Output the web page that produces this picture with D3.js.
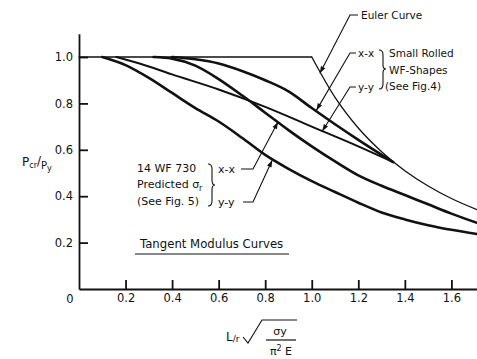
<!DOCTYPE html>
<html>
<head>
<meta charset="utf-8">
<script src="https://cdn.jsdelivr.net/npm/d3@7"></script>
<style>
  body { margin: 0; background: #fff; }
  svg text { font-family: "DejaVu Sans", sans-serif; fill: #111; }
  .axis path, .axis line { stroke: #111; stroke-width: 1.8; }
  .axis text { font-size: 11.5px; }
  .curve { fill: none; stroke: #111; stroke-linejoin: round; stroke-linecap: round; }
  .leader { fill: none; stroke: #111; stroke-width: 1.1; }
  .note { font-size: 10.5px; }
</style>
</head>
<body>
<svg id="chart"></svg>
<script>
// Values: [L/r * sqrt(sy / pi^2 E), Pcr/Py]
const eulerPlateau = [[0, 1.0], [1.0, 1.0]];
const eulerCurve = [[1.0, 1.0], [1.1, 0.826], [1.2, 0.694], [1.3, 0.592], [1.4, 0.51],
                    [1.5, 0.444], [1.6, 0.39], [1.71, 0.342]];
const smallXX = [[0.40, 1.0], [0.5, 0.99], [0.6, 0.972], [0.7, 0.94], [0.8, 0.9],
                 [0.9, 0.852], [1.0, 0.78], [1.1, 0.71], [1.2, 0.643], [1.35, 0.547]];
const smallYY = [[0.16, 1.0], [0.26, 0.972], [0.4, 0.925], [0.6, 0.86], [0.8, 0.785],
                 [1.0, 0.70], [1.2, 0.615], [1.35, 0.547]];
const wf730XX = [[0.32, 1.0], [0.4, 0.993], [0.5, 0.963], [0.6, 0.905], [0.7, 0.835],
                 [0.8, 0.76], [0.9, 0.685], [1.0, 0.615], [1.1, 0.55], [1.2, 0.49],
                 [1.3, 0.445], [1.4, 0.405], [1.5, 0.365], [1.6, 0.325], [1.71, 0.285]];
const wf730YY = [[0.10, 1.0], [0.2, 0.965], [0.3, 0.91], [0.4, 0.845], [0.5, 0.78],
                 [0.6, 0.722], [0.7, 0.652], [0.8, 0.578], [0.9, 0.518], [1.0, 0.465],
                 [1.1, 0.418], [1.2, 0.372], [1.3, 0.33], [1.4, 0.3], [1.5, 0.275],
                 [1.6, 0.255], [1.71, 0.237]];

const xTicks = [0.2, 0.4, 0.6, 0.8, 1.0, 1.2, 1.4, 1.6];
const yTicks = [0.2, 0.4, 0.6, 0.8, 1.0];

const W = 477, H = 359;
const svg = d3.select("#chart").attr("width", W).attr("height", H);

// Set the ranges
let x = d3.scaleLinear().domain([0, 1.71]).range([79, 477]);
let y = d3.scaleLinear().domain([0, 1.1]).range([289, 33.8]);

let smooth = d3.line().x(d => x(d[0])).y(d => y(d[1])).curve(d3.curveMonotoneX);
let straight = d3.line().x(d => x(d[0])).y(d => y(d[1]));

// arrow head for leaders
svg.append("defs").append("marker")
    .attr("id", "arrow")
    .attr("viewBox", "0 0 10 10")
    .attr("refX", 10).attr("refY", 5)
    .attr("markerWidth", 9).attr("markerHeight", 7)
    .attr("markerUnits", "userSpaceOnUse")
    .attr("orient", "auto")
    .append("path").attr("d", "M0,1.5 L10,5 L0,8.5 Z").attr("fill", "#111");

// Axes, ticks pointing inward
svg.append("g")
    .attr("class", "y axis")
    .attr("transform", "translate(" + x(0) + ",0)")
    .call(d3.axisLeft(y).tickValues(yTicks).tickSize(-9).tickSizeOuter(0)
        .tickPadding(6).tickFormat(d3.format(".1f")));

svg.append("g")
    .attr("class", "x axis")
    .attr("transform", "translate(0," + y(0) + ")")
    .call(d3.axisBottom(x).tickValues(xTicks).tickSize(-9).tickSizeOuter(0)
        .tickPadding(5).tickFormat(d3.format(".1f")));

svg.append("text").attr("x", x(0) - 9).attr("y", y(0) + 14)
    .attr("text-anchor", "middle").style("font-size", "11.5px").text("0");

// Curves
svg.append("path").datum(eulerPlateau).attr("class", "curve")
    .attr("stroke-width", 1.3).attr("d", straight);
svg.append("path").datum(eulerCurve).attr("class", "curve")
    .attr("stroke-width", 1.3).attr("d", smooth);
svg.append("path").datum(smallYY).attr("class", "curve")
    .attr("stroke-width", 2).attr("d", smooth);
svg.append("path").datum(smallXX).attr("class", "curve")
    .attr("stroke-width", 2.6).attr("d", smooth);
svg.append("path").datum(wf730XX).attr("class", "curve")
    .attr("stroke-width", 2.6).attr("d", smooth);
svg.append("path").datum(wf730YY).attr("class", "curve")
    .attr("stroke-width", 2.6).attr("d", smooth);

// Leaders: start points in px, tips on the curves in data units
function leader(pts, tip) {
    let p = pts.concat([[x(tip[0]), y(tip[1])]]);
    svg.append("path").attr("class", "leader")
        .attr("d", d3.line()(p)).attr("marker-end", "url(#arrow)");
}
leader([[358, 15], [350, 15]], [1.035, 0.93]);
leader([[356, 53], [350, 53]], [1.02, 0.77]);
leader([[356, 87], [350, 87]], [1.045, 0.68]);
leader([[241, 169], [253, 169]], [0.855, 0.72]);
leader([[243, 202], [253, 202]], [0.83, 0.555]);

// Text notes
function note(tx, ty, s, anchor) {
    return svg.append("text").attr("class", "note").attr("x", tx).attr("y", ty)
        .attr("text-anchor", anchor || "start").text(s);
}
note(361, 19, "Euler Curve");
note(358, 57, "x-x");
note(358, 91, "y-y");
note(389, 57, "Small Rolled");
note(389, 74, "WF-Shapes");
note(385, 90, "(See Fig.4)");

note(137, 172, "14 WF 730").style("font-size", "11px");
let pr = note(137, 188, "Predicted σ").style("font-size", "11px");
pr.append("tspan").attr("dy", 3).style("font-size", "8px").text("r");
note(137, 205, "(See Fig. 5)").style("font-size", "11px");
note(218, 173, "x-x").style("font-size", "11px");
note(218, 206, "y-y").style("font-size", "11px");

// braces
svg.append("path").attr("class", "leader").attr("stroke-width", 1.3)
    .attr("d", "M379,50 Q383,50 383,55 L383,65 Q383,69 386,69 Q383,69 383,73 L383,84 Q383,89 379,89");
svg.append("path").attr("class", "leader").attr("stroke-width", 1.3)
    .attr("d", "M208,164 Q212,164 212,169 L212,180 Q212,185 215,185 Q212,185 212,190 L212,201 Q212,206 208,206");

svg.append("text").attr("class", "note").attr("x", 140).attr("y", 248)
    .style("font-size", "11.7px").text("Tangent Modulus Curves");
svg.append("line").attr("x1", 135).attr("x2", 289).attr("y1", 254).attr("y2", 254)
    .attr("stroke", "#111").attr("stroke-width", 1.2);

// Y axis title: Pcr/Py
let yl = svg.append("text").attr("x", 22).attr("y", 166).style("font-size", "12px");
yl.append("tspan").text("P");
yl.append("tspan").attr("dy", 2).style("font-size", "8px").text("cr");
yl.append("tspan").attr("dy", -3).text("/");
yl.append("tspan").attr("dy", 4).style("font-size", "10px").text("P");
yl.append("tspan").attr("dy", 2).style("font-size", "8px").text("y");

// X axis title: L/r sqrt(sy / pi^2 E)
let xl = svg.append("text").attr("x", 226).attr("y", 341).style("font-size", "12px");
xl.append("tspan").text("L");
xl.append("tspan").attr("dy", 1).style("font-size", "9px").text("/r");
svg.append("path").attr("class", "leader").attr("stroke-width", 1.4)
    .attr("d", "M243,337 L248,343 L262,320 L297,320");
svg.append("text").attr("x", 280).attr("y", 335).attr("text-anchor", "middle")
    .style("font-size", "11px").text("σy");
svg.append("line").attr("x1", 266).attr("x2", 296).attr("y1", 340).attr("y2", 340)
    .attr("stroke", "#111").attr("stroke-width", 1.2);
let den = svg.append("text").attr("x", 281).attr("y", 355).attr("text-anchor", "middle")
    .style("font-size", "11px");
den.append("tspan").text("π");
den.append("tspan").attr("dy", -4).style("font-size", "8px").text("2");
den.append("tspan").attr("dy", 4).text(" E");
</script>
</body>
</html>
